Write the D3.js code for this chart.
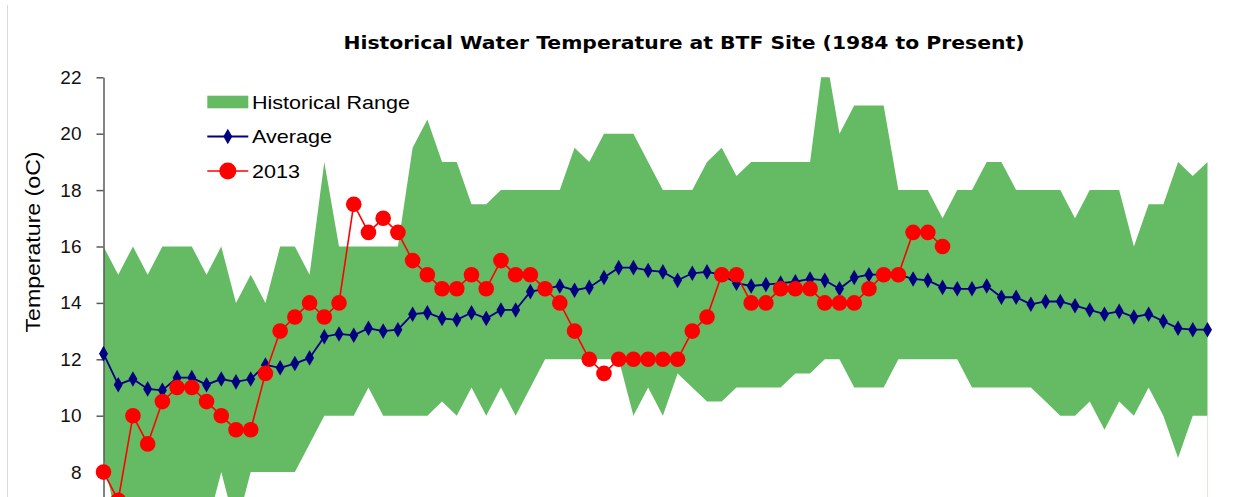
<!DOCTYPE html>
<html>
<head>
<meta charset="utf-8">
<script src="https://cdn.jsdelivr.net/npm/d3@7"></script>
<style>
  html, body { margin: 0; padding: 0; background: #ffffff; overflow: hidden; }
  svg { display: block; }
</style>
</head>
<body>
<svg id="chart" width="1251" height="497"></svg>
<script>
// ---- data (weekly index, 76 points) ----
const weeks = d3.range(1, 77);
const average = [12.2, 11.1, 11.3, 10.95, 10.9, 11.35, 11.35, 11.1, 11.3, 11.2, 11.3, 11.8, 11.7, 11.85, 12.05, 12.8,
  12.9, 12.85, 13.1, 13.0, 13.05, 13.6, 13.65, 13.45, 13.4, 13.65, 13.45, 13.75, 13.75, 14.4,
  14.5, 14.6, 14.45, 14.55, 14.9, 15.25, 15.25, 15.15, 15.1, 14.8, 15.05, 15.1, 15.0, 14.7,
  14.6, 14.65, 14.7, 14.75, 14.85, 14.8, 14.5, 14.9, 15.0, 15.0, 15.0, 14.85, 14.8, 14.55,
  14.5, 14.5, 14.6, 14.2, 14.2, 13.95, 14.05, 14.05, 13.9, 13.75, 13.6, 13.7, 13.5, 13.6,
  13.35, 13.1, 13.05, 13.05];
const y2013 = [8, 7, 10, 9, 10.5, 11, 11, 10.5, 10, 9.5, 9.5, 11.5, 13, 13.5, 14, 13.5, 14, 17.5, 16.5, 17,
  16.5, 15.5, 15, 14.5, 14.5, 15, 14.5, 15.5, 15, 15, 14.5, 14, 13, 12, 11.5, 12, 12, 12, 12, 12,
  13, 13.5, 15, 15, 14, 14, 14.5, 14.5, 14.5, 14, 14, 14, 14.5, 15, 15, 16.5, 16.5, 16];
const rangeHigh = [16, 15, 16, 15, 16, 16, 16, 15, 16, 14, 15, 14, 16, 16, 15, 19, 16, 16, 16, 16,
  16, 19.5, 20.5, 19, 19, 17.5, 17.5, 18, 18, 18, 18, 18, 19.5, 19, 20, 20, 20, 19, 18, 18,
  18, 19, 19.5, 18.5, 19, 19, 19, 19, 19, 23, 20, 21, 21, 21, 18, 18, 18, 17, 18, 18,
  19, 19, 18, 18, 18, 18, 17, 18, 18, 18, 16, 17.5, 17.5, 19, 18.5, 19];
const rangeLow = [8.5, 6, 6, 6.5, 6, 6, 6.5, 6, 8, 6, 8, 8, 8, 8, 9, 10, 10, 10, 11, 10,
  10, 10, 10, 10.5, 10, 11, 10, 11, 10, 11, 12, 12, 12, 12, 12, 12, 10, 11, 10, 11.5,
  11, 10.5, 10.5, 11, 11, 11, 11, 11.5, 11.5, 12, 12, 11, 11, 11, 12, 12, 12, 12, 12, 11,
  11, 11, 11, 11, 10.5, 10, 10, 10.5, 9.5, 10.5, 10, 11, 10, 8.5, 10, 10];
const yTicks = [8, 10, 12, 14, 16, 18, 20, 22];
const legendItems = ["Historical Range", "Average", "2013"];
const titleText = "Historical Water Temperature at BTF Site (1984 to Present)";
const yLabel = "Temperature (oC)";

// ---- layout ----
const svg = d3.select("#chart");
const plotLeft = 103.5, plotRight = 1207.5, plotTop = 77.3, degPx = 28.2;
const x = d3.scalePoint().domain(weeks).range([plotLeft, plotRight]);
const y = d3.scaleLinear().domain([0, 22]).range([plotTop + 22 * degPx, plotTop]);

const green = "#64bb64", navy = "#000080", red = "#ff0000";

// chart-area border (left edge)
svg.append("line").attr("x1", 7.5).attr("x2", 7.5).attr("y1", 5).attr("y2", 497)
  .attr("stroke", "#d8d8e4").attr("stroke-width", 1);

svg.append("defs").append("clipPath").attr("id", "plotclip")
  .append("rect").attr("x", plotLeft).attr("y", plotTop)
  .attr("width", plotRight - plotLeft + 1).attr("height", 22 * degPx);

const plot = svg.append("g").attr("clip-path", "url(#plotclip)");

// historical range area
const rangeData = weeks.map((w, i) => ({ w, lo: rangeLow[i], hi: rangeHigh[i] }));
plot.append("path").datum(rangeData)
  .attr("fill", green)
  .attr("d", d3.area().x(d => x(d.w)).y0(d => y(d.lo)).y1(d => y(d.hi)));
// faint right edge of the range series
svg.append("line").attr("x1", x(weeks[weeks.length - 1])).attr("x2", x(weeks[weeks.length - 1]))
  .attr("y1", y(rangeLow[rangeLow.length - 1])).attr("y2", 497)
  .attr("stroke", "#d6ecd6").attr("stroke-width", 1);

// y axis
const yAxis = d3.axisLeft(y).tickValues(yTicks).tickSize(7).tickSizeOuter(0).tickPadding(15)
  .tickFormat(d3.format("d"));
const ax = svg.append("g").attr("transform", `translate(${plotLeft},0)`).call(yAxis);
ax.select(".domain").attr("stroke", "#5a5a5a").attr("stroke-width", 1.5);
ax.selectAll(".tick line").attr("stroke", "#5a5a5a").attr("stroke-width", 1.5);
ax.selectAll(".tick text").attr("fill", "#111").style("font-family", "'Liberation Sans', Arial, sans-serif")
  .style("font-size", "19px");

// average line + diamonds
const avgData = weeks.map((w, i) => ({ w, v: average[i] }));
svg.append("path").datum(avgData)
  .attr("fill", "none").attr("stroke", navy).attr("stroke-width", 1.8)
  .attr("d", d3.line().x(d => x(d.w)).y(d => y(d.v)));
const diamond = d3.symbol().type(d3.symbolDiamond).size(70);
svg.append("g").selectAll("path").data(avgData).join("path")
  .attr("transform", d => `translate(${x(d.w)},${y(d.v)})`)
  .attr("d", diamond).attr("fill", navy);

// 2013 line + circles
const d13 = y2013.map((v, i) => ({ w: weeks[i], v }));
svg.append("path").datum(d13)
  .attr("fill", "none").attr("stroke", red).attr("stroke-width", 1.6)
  .attr("d", d3.line().x(d => x(d.w)).y(d => y(d.v)));
svg.append("g").selectAll("circle").data(d13).join("circle")
  .attr("cx", d => x(d.w)).attr("cy", d => y(d.v)).attr("r", 7.8).attr("fill", red);

// title
svg.append("text").attr("x", 684).attr("y", 49).attr("text-anchor", "middle")
  .attr("textLength", 681).attr("lengthAdjust", "spacingAndGlyphs")
  .style("font-family", "'DejaVu Sans', Verdana, sans-serif").style("font-weight", "bold")
  .style("font-size", "18px").attr("fill", "#000").text(titleText);

// y label
svg.append("text").attr("transform", "translate(40,242) rotate(-90)").attr("text-anchor", "middle")
  .attr("textLength", 181).attr("lengthAdjust", "spacingAndGlyphs")
  .style("font-family", "'Liberation Sans', Arial, sans-serif").style("font-size", "20px")
  .attr("fill", "#000").text(yLabel);

// legend
const lg = svg.append("g");
const lx0 = 207.3, lx1 = 248.3, lcx = 227.8, ltx = 252;
const legendRows = [102, 136.5, 171];
const legendWidths = [158, 80, 48];
lg.append("rect").attr("x", lx0).attr("y", 95.7).attr("width", lx1 - lx0).attr("height", 12.6).attr("fill", green);
lg.append("line").attr("x1", lx0).attr("x2", lx1).attr("y1", legendRows[1]).attr("y2", legendRows[1])
  .attr("stroke", navy).attr("stroke-width", 1.8);
lg.append("path").attr("transform", `translate(${lcx},${legendRows[1]})`).attr("d", diamond).attr("fill", navy);
lg.append("line").attr("x1", lx0).attr("x2", lx1).attr("y1", legendRows[2]).attr("y2", legendRows[2])
  .attr("stroke", red).attr("stroke-width", 1.6);
lg.append("circle").attr("cx", lcx).attr("cy", legendRows[2]).attr("r", 8.5).attr("fill", red);
lg.selectAll("text.leg").data(legendItems).join("text").attr("class", "leg")
  .attr("x", ltx).attr("y", (d, i) => legendRows[i] + 6.5)
  .attr("textLength", (d, i) => legendWidths[i]).attr("lengthAdjust", "spacingAndGlyphs")
  .style("font-family", "'Liberation Sans', Arial, sans-serif").style("font-size", "18.5px")
  .attr("fill", "#000").text(d => d);
</script>
</body>
</html>
